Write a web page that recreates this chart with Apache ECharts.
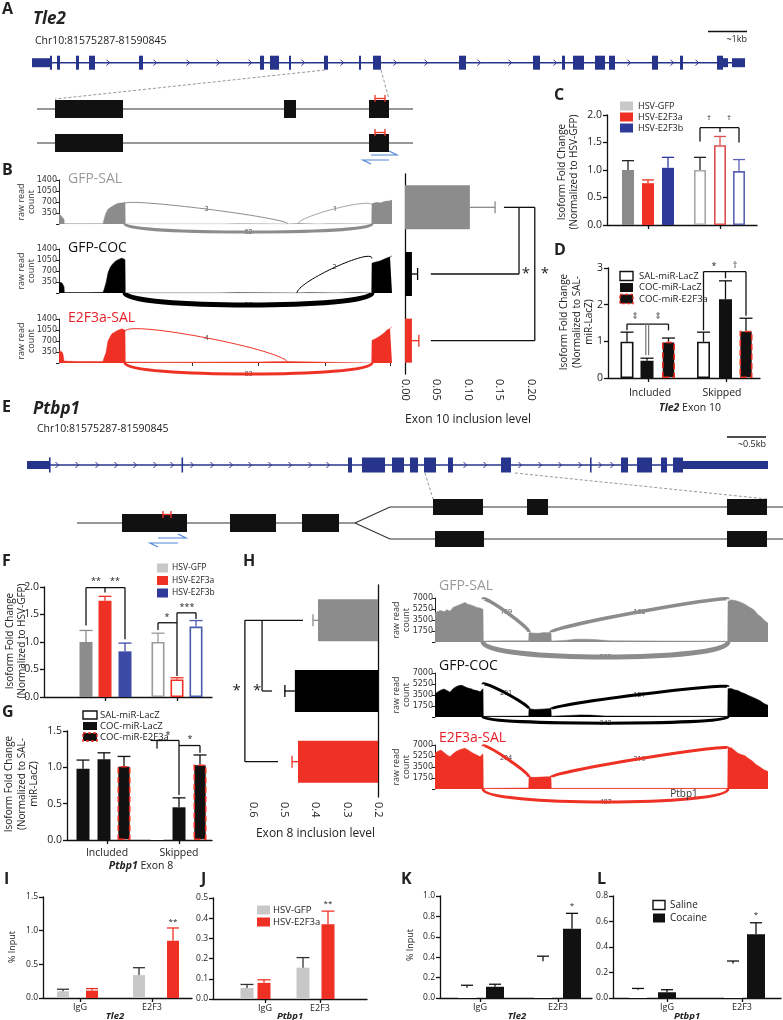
<!DOCTYPE html>
<html>
<head>
<meta charset="utf-8">
<script src="https://cdn.jsdelivr.net/npm/echarts@6/dist/echarts.min.js"></script>
<style>
html, body { margin: 0; background: #fff; }
#main { width: 783px; height: 1020px; }
</style>
</head>
<body>
<div id="main"></div>
<script>
// ---------------- data ----------------
const samples = ['GFP-SAL', 'GFP-COC', 'E2F3a-SAL'];
const exonGroups = ['Included', 'Skipped'];
const chipTargets = ['IgG', 'E2F3'];
const hsvNames = ['HSV-GFP', 'HSV-E2F3a', 'HSV-E2F3b'];
const mirNames = ['SAL-miR-LacZ', 'COC-miR-LacZ', 'COC-miR-E2F3a'];

// gene models (track position units)
const tle2Span = [32, 745];
const tle2Exons = [[50,52],[57,60],[76,79],[89,95],[139,143],[260,264],[270,279],[289,291],[324,328],[359,361],[373,381],[459,466],[533,540],[562,565],[573,584],[595,605],[609,615],[652,658],[680,683],[717,723]];
const tle2Utrs = [[32,50],[723,728],[732,745]];
const tle2Chevrons = [108,155,188,218,250,303,342,395,426,479,510,555,629,672,697];
const tle2IsoSpan = [37, 413];
const tle2IsoIncl = [[55,123],[284,296],[369,389]];
const tle2IsoSkip = [[55,123],[369,389]];

const ptbSpan = [28, 768];
const ptbExons = [[49,50.5],[181.5,183],[348,352],[362,385],[392,404],[410,418],[424,436],[448,453],[501,511],[590,591.5],[621,628],[637,652],[661,667],[673,683]];
const ptbUtrs = [[27,49],[683,768]];
const ptbChevrons = [57,77,97,116,135,155,172,192,212,231,250,270,290,310,328,465,485,520,540,560,580,600,612];
const ptbIsoSharedSpan = [77, 355];
const ptbIsoShared = [[122,187],[230,276],[302,339]];
const ptbIsoBranchSpan = [390, 783];
const ptbIsoIncl = [[433,483],[527,548],[727,767]];
const ptbIsoSkip = [[435,484],[727,767]];

// Tle2 sashimi coverage [position, raw read count]
const tle2CovGfpSal = [[0,330],[1,290],[2,260],[3,280],[4,220],[5,150],[5.3,8],[20,6],[44,10],[45,140],[47,350],[49,470],[51,520],[53,560],[56,610],[59,660],[61,650],[63,670],[65,690],[66,690],[66.3,0],[166,0],[166.3,8],[178,8],[178.3,0],[228,0],[228.3,15],[240,15],[240.3,0],[258,0],[258.3,6],[272,6],[272.3,0],[312.7,0],[313,650],[315,620],[318,690],[321,670],[323,700],[326,720],[328,740],[330,730],[333,760]];
const tle2CovGfpCoc = [[0,350],[1,330],[2,360],[3,320],[4,300],[5,200],[5.3,15],[30,12],[44,20],[45,100],[47,320],[49,640],[51,800],[53,900],[56,1000],[59,1060],[61,1080],[63,1110],[65,1070],[66,1060],[66.3,0],[160,0],[160.3,8],[178,8],[178.3,0],[238,0],[238.3,10],[250,8],[250.3,0],[278,0],[278.3,8],[296,8],[296.3,0],[312.7,0],[313,950],[316,980],[318,1000],[321,1020],[323,1050],[326,1090],[328,1120],[331,1150],[333,1180]];
const tle2CovE2f3 = [[0,400],[1,380],[2,360],[3,350],[4,280],[5,60],[20,45],[44,50],[45,160],[47,330],[49,700],[51,830],[53,930],[56,990],[59,1040],[61,1060],[63,1090],[65,1050],[66,1040],[66.3,30],[100,25],[200,30],[212,40],[230,45],[241,40],[241.3,0],[312.7,0],[313,720],[316,760],[318,800],[321,860],[323,900],[326,980],[328,1050],[331,1100],[333,1150]];
// junctions [from, countAtFrom, to, countAtTo, bend, weight]
const tle2JuncGfpSal = [[66,650,229,0,200,1],[239,0,313,600,250,0.8],[66,0,313,0,-340,3]];
const tle2JuncGfpCoc = [[238,0,313,1100,350,1],[66,0,313,0,-510,5]];
const tle2JuncE2f3 = [[66,1000,229,0,400,1],[66,0,313,0,-470,3]];
const tle2JuncLabels = [['3','1','62'], ['2','57'], ['4','83']];

// Ptbp1 sashimi coverage
const ptbCovGfpSal = [[0,4600],[3,4900],[6,5000],[9,4800],[12,5150],[15,4900],[18,5500],[21,5700],[24,5900],[27,6100],[30,6300],[33,6000],[36,5900],[39,5700],[42,5500],[45,5400],[48,5200],[48.3,150],[70,180],[93.7,200],[94,1500],[97,1450],[100,1400],[103,1380],[106,1450],[109,1500],[112,1480],[116,1550],[116.3,150],[130,250],[140,420],[150,450],[160,380],[175,200],[230,150],[292.7,120],[293,6470],[296,6700],[299,6650],[303,6470],[306,6300],[309,6100],[313,5670],[316,5400],[319,5100],[323,4350],[326,4000],[329,3500],[333,3000]];
const ptbCovGfpCoc = [[0,3700],[3,4000],[6,4300],[9,4450],[12,4200],[15,3950],[18,4500],[21,4800],[24,5000],[27,5050],[30,4800],[33,4600],[36,4500],[39,4300],[42,4200],[45,4000],[48,4500],[48.3,100],[93.7,150],[94,1300],[100,1200],[106,1250],[112,1300],[116,1350],[116.3,120],[135,250],[145,330],[155,300],[170,150],[292.7,100],[293,4500],[296,4550],[300,4300],[303,4200],[306,3950],[310,3700],[313,3450],[317,3200],[321,2900],[325,2600],[329,2150],[333,1850]];
const ptbCovE2f3 = [[0,5700],[3,6000],[6,6200],[9,5800],[12,5400],[15,5150],[18,5600],[21,5950],[24,6200],[27,6350],[30,6470],[33,6200],[36,5900],[39,5600],[42,5400],[45,5150],[48,5600],[48.3,100],[93.7,150],[94,1900],[100,1850],[106,1900],[112,1950],[116,1900],[116.3,100],[292.7,100],[293,6470],[296,6600],[299,6200],[303,5680],[306,5500],[310,5300],[313,4900],[317,4500],[321,3900],[325,3500],[329,3050],[333,2800]];
const ptbJuncGfpSal = [[48,6800,94,1600,800,3.5],[116,1600,293,6800,800,3.5],[48,0,293,0,-3180,5]];
const ptbJuncGfpCoc = [[48,5200,94,1300,700,3],[116,1300,293,4800,700,3],[48,0,293,0,-1300,3]];
const ptbJuncE2f3 = [[48,6800,94,1900,800,3],[116,1900,293,6500,800,3],[48,0,293,0,-2760,3]];
const ptbJuncLabels = [['169','165','532'], ['201','121','342'], ['204','219','487']];

// inclusion levels (mean, sem)
const tle2Incl = [0.103, 0.011, 0.011];
const tle2InclSem = [0.04, 0.009, 0.011];
const ptbIncl = [0.392, 0.466, 0.456];
const ptbInclSem = [0.016, 0.032, 0.019];

// isoform fold changes (3 per exon group)
const cMean = [1.00, 0.76, 1.04, 1.00, 1.45, 0.98];
const cSem  = [0.17, 0.06, 0.19, 0.23, 0.16, 0.21];
const dMean = [0.99, 0.47, 0.99, 0.99, 2.15, 1.29];
const dSem  = [0.26, 0.07, 0.10, 0.26, 0.50, 0.34];
const fMean = [1.00, 1.75, 0.83, 1.00, 0.32, 1.28];
const fSem  = [0.21, 0.08, 0.15, 0.16, 0.03, 0.11];
const gMean = [0.98, 1.11, 1.02, 1.26, 0.45, 1.04];
const gSem  = [0.12, 0.09, 0.13, 0.11, 0.13, 0.13];

// ChIP % input (IgG x2, E2F3 x2)
const iMean = [0.10, 0.11, 0.34, 0.85];
const iSem  = [0.03, 0.03, 0.11, 0.19];
const jMean = [0.055, 0.08, 0.155, 0.37];
const jSem  = [0.017, 0.015, 0.05, 0.065];
const kMean = [0.10, 0.11, 0.36, 0.68];
const kSem  = [0.025, 0.025, 0.05, 0.15];
const lMean = [0.065, 0.045, 0.27, 0.50];
const lSem  = [0.01, 0.02, 0.02, 0.09];

// ---------------- styles / helpers ----------------
const FONT = '"Open Sans", "Noto Sans", sans-serif';
const BLUE = '#27348b', RED = '#ee3124', NAVY = '#2e3a99', LGRAY = '#c8c8c8', PRIMER = '#4f86d6';
const grids = [], xAxes = [], yAxes = [], series = [], graphics = [];

function addGrid (grid, xa, ya) {
    const i = grids.length
    grids.push(grid)
    xAxes.push(Object.assign({ gridIndex: i }, xa))
    yAxes.push(Object.assign({ gridIndex: i }, ya))
    return i
}
function txt (x, y, text, o = {}) {
    const align = o.align || 'left', va = o.va || 'top'
    graphics.push({ type: 'text', x, y, rotation: o.rot || 0, z: 100, silent: true,
        style: { text, fill: o.color || '#222', fontSize: o.size || 10, fontFamily: o.family || FONT,
            fontWeight: o.weight || 'normal', fontStyle: o.style || 'normal', lineHeight: o.lh,
            align, textAlign: align, verticalAlign: va, textVerticalAlign: va, rich: o.rich } })
}
function gline (x1, y1, x2, y2, color = '#111', lw = 1.2) {
    graphics.push({ type: 'line', z: 100, silent: true, shape: { x1, y1, x2, y2 }, style: { stroke: color, lineWidth: lw } })
}
function swatch (x, y, w, h, fill, stroke, dash) {
    graphics.push({ type: 'rect', z: 100, silent: true, shape: { x, y: y - h / 2, width: w, height: h },
        style: { fill, stroke: stroke || null, lineWidth: stroke ? 1.4 : 0, lineDash: dash ? [3, 2] : null } })
}
function poly (pts) {   // polyline -> list of segments
    const s = []
    for (let i = 1; i < pts.length; i++) s.push([pts[i - 1][0], pts[i - 1][1], pts[i][0], pts[i][1]])
    return s
}
function hollow (c) { return { color: '#fff', borderColor: c, borderWidth: 1.6 } }
const redDash = { color: '#111', borderColor: RED, borderWidth: 1.6, borderType: 'dashed' }

function errBars (gi, pts, horiz, colors, cap, lw = 1.3) {
    return {
        type: 'custom', xAxisIndex: gi, yAxisIndex: gi, z: 3, silent: true, data: pts,
        renderItem: (params, api) => {
            const c = colors[params.dataIndex]
            let b, t, a1, a2
            if (!horiz) {
                b = api.coord([api.value(0), api.value(1)]); t = api.coord([api.value(0), api.value(2)])
                a1 = [t[0] - cap, t[1]]; a2 = [t[0] + cap, t[1]]
            } else {
                b = api.coord([api.value(1), api.value(0)]); t = api.coord([api.value(2), api.value(0)])
                a1 = [t[0], t[1] - cap]; a2 = [t[0], t[1] + cap]
            }
            return { type: 'group', children: [
                { type: 'line', shape: { x1: b[0], y1: b[1], x2: t[0], y2: t[1] }, style: { stroke: c, lineWidth: lw } },
                { type: 'line', shape: { x1: a1[0], y1: a1[1], x2: a2[0], y2: a2[1] }, style: { stroke: c, lineWidth: lw } }
            ] }
        }
    }
}
function annotSeries (gi, a) {
    const items = []
    ;(a.segs || []).forEach(s => items.push([0, s[0], s[1], s[2], s[3], 0]))
    ;(a.texts || []).forEach((t, k) => items.push([1, t[0], t[1], 0, 0, k]))
    return {
        type: 'custom', xAxisIndex: gi, yAxisIndex: gi, z: 4, silent: true, data: items,
        renderItem: (params, api) => {
            if (api.value(0) === 0) {
                const p1 = api.coord([api.value(1), api.value(2)]), p2 = api.coord([api.value(3), api.value(4)])
                return { type: 'line', shape: { x1: p1[0], y1: p1[1], x2: p2[0], y2: p2[1] },
                    style: { stroke: a.color || '#111', lineWidth: a.lw || 1.3 } }
            }
            const t = a.texts[api.value(5)], p = api.coord([api.value(1), api.value(2)])
            return { type: 'text', x: p[0], y: p[1], style: { text: t[2], fill: '#222', fontSize: t[3] || 9, fontFamily: FONT,
                align: 'center', textAlign: 'center', verticalAlign: 'middle', textVerticalAlign: 'middle' } }
        }
    }
}

// vertical bar panel on a value x axis (bar centres given in px from grid left)
function barPanel (p) {
    const gi = addGrid({ left: p.left, top: p.top, width: p.width, height: p.height },
        { type: 'value', min: 0, max: p.width, splitLine: { show: false },
            axisLine: { onZero: false, lineStyle: { color: '#111', width: 1.3 } },
            axisTick: { show: !!p.ticks, customValues: p.ticks || [], length: 4, lineStyle: { color: '#111', width: 1.3 } },
            axisLabel: { show: false } },
        { type: 'value', min: 0, max: p.yMax, interval: p.yInt, splitLine: { show: false },
            axisLine: { show: true, onZero: false, lineStyle: { color: '#111', width: 1.3 } },
            axisTick: { show: true, length: 4, lineStyle: { color: '#111', width: 1.3 } },
            axisLabel: { fontSize: p.yFont || 10.5, color: '#222', fontFamily: FONT, margin: 5, formatter: v => v.toFixed(p.dec) } })
    series.push({ type: 'bar', xAxisIndex: gi, yAxisIndex: gi, barWidth: p.barW, z: 2,
        data: p.mean.map((m, i) => ({ value: [p.x[i], m], itemStyle: p.style[i] })) })
    series.push(errBars(gi, p.mean.map((m, i) => [p.x[i], m, m + p.sem[i]]), false, p.errColor, p.cap || p.barW / 2))
    if (p.annot) series.push(annotSeries(gi, p.annot))
    if (p.labels) p.labels.forEach((s, i) => txt(p.labelX[i], p.top + p.height + p.labelGap, s,
        { size: p.xFont || 10.5, align: 'center', va: 'middle', color: '#222' }))
    return gi
}

// horizontal inclusion-level bar panel
function hBarPanel (p) {
    const gi = addGrid({ left: p.left, top: p.top, width: p.width, height: p.height },
        { type: 'value', min: p.xMin, max: p.xMax, interval: p.xInt, inverse: !!p.inverse, splitLine: { show: false },
            axisLine: { onZero: false, lineStyle: { color: '#111', width: 1.3 } },
            axisTick: { length: 4, lineStyle: { color: '#111', width: 1.3 } },
            axisLabel: { rotate: -90, fontSize: 11, color: '#222', fontFamily: FONT, margin: 5, formatter: v => v.toFixed(p.dec) },
            name: p.xName, nameLocation: 'middle', nameGap: p.nameGap, nameTextStyle: { fontSize: 12, color: '#222', fontFamily: FONT } },
        { type: 'category', data: samples, inverse: true, position: p.yPos,
            axisLine: { onZero: false, lineStyle: { color: '#111', width: 1.3 } }, axisTick: { show: false }, axisLabel: { show: false } })
    series.push({ type: 'bar', xAxisIndex: gi, yAxisIndex: gi, barWidth: p.barW, clip: true, z: 2,
        data: p.vals.map((v, i) => ({ value: v, itemStyle: { color: p.colors[i] } })) })
    series.push(errBars(gi, p.vals.map((v, i) => [i, v, v + p.sem[i]]), true, p.colors, 6))
    series.push(annotSeries(gi, p.annot))
}

// sashimi row
function sashimi (p) {
    const gi = addGrid({ left: p.left, top: p.top, width: p.width, height: p.height },
        { type: 'value', min: 0, max: p.width, show: !!p.topTicks, position: 'top', splitLine: { show: false },
            axisLine: { show: false }, axisLabel: { show: false },
            axisTick: { show: !!p.topTicks, inside: true, length: 3, customValues: p.topTicks || [], lineStyle: { color: '#333' } } },
        { type: 'value', min: 0, max: p.yMax, interval: p.yMax / 4, splitLine: { show: false },
            axisLine: { show: true, onZero: false, lineStyle: { color: '#222', width: 1 } },
            axisTick: { show: true, length: 3, lineStyle: { color: '#222' } },
            axisLabel: { fontSize: 8, color: '#333', margin: 2, fontFamily: '"DejaVu Sans"', formatter: v => v === 0 ? '' : String(v) } })
    series.push({ type: 'line', xAxisIndex: gi, yAxisIndex: gi, data: p.cov, symbol: 'none', z: 2,
        lineStyle: { width: 0.5, color: p.color }, areaStyle: { color: p.color, opacity: 1 } })
    series.push({
        type: 'custom', xAxisIndex: gi, yAxisIndex: gi, z: 3, silent: true, clip: false, data: p.arcs,
        renderItem: (params, api) => {
            const a = api.value(0), ya = api.value(1), b = api.value(2), yb = api.value(3), d = api.value(4), lw = api.value(5)
            const p0 = api.coord([a, ya]), p1 = api.coord([a, ya + d]), p2 = api.coord([b, yb + d]), p3 = api.coord([b, yb])
            const mx = (p0[0] + 3 * p1[0] + 3 * p2[0] + p3[0]) / 8, my = (p0[1] + 3 * p1[1] + 3 * p2[1] + p3[1]) / 8
            return { type: 'group', children: [
                { type: 'text', x: mx, y: my, z2: 0, style: { text: p.labels[params.dataIndex], fill: '#333', fontSize: 7, fontFamily: FONT,
                    align: 'center', textAlign: 'center', verticalAlign: 'middle', textVerticalAlign: 'middle' } },
                { type: 'bezierCurve', z2: 1, shape: { x1: p0[0], y1: p0[1], cpx1: p1[0], cpy1: p1[1], cpx2: p2[0], cpy2: p2[1], x2: p3[0], y2: p3[1] },
                    style: { stroke: p.arcColor || p.color, lineWidth: lw, fill: 'none' } }
            ] }
        }
    })
}

// gene model drawing
function structSeries (gi, items) {
    return {
        type: 'custom', xAxisIndex: gi, yAxisIndex: gi, z: 2, silent: true, clip: false, data: items,
        renderItem: (params, api) => {
            const k = api.value(0), h = api.value(5)
            const p1 = api.coord([api.value(1), api.value(3)]), p2 = api.coord([api.value(2), api.value(4)])
            if (k === 0 || k === 3) return { type: 'line', shape: { x1: p1[0], y1: p1[1], x2: p2[0], y2: p2[1] },
                style: { stroke: k === 0 ? BLUE : '#333', lineWidth: k === 0 ? 1.6 : 1.1 } }
            if (k === 1 || k === 4) return { type: 'rect', shape: { x: p1[0], y: p1[1] - h / 2, width: Math.max(p2[0] - p1[0], 1.6), height: h },
                style: { fill: k === 1 ? BLUE : '#111' } }
            if (k === 2) return { type: 'polyline', shape: { points: [[p1[0] - 1.5, p1[1] - 3], [p1[0] + 1.5, p1[1]], [p1[0] - 1.5, p1[1] + 3]] },
                style: { stroke: BLUE, lineWidth: 1, fill: 'none' } }
            if (k === 5) {
                const y = p1[1]
                return { type: 'group', children: [
                    { type: 'line', shape: { x1: p1[0], y1: y - 4, x2: p1[0], y2: y + 3 }, style: { stroke: RED, lineWidth: 1.3 } },
                    { type: 'line', shape: { x1: p2[0], y1: y - 4, x2: p2[0], y2: y + 3 }, style: { stroke: RED, lineWidth: 1.3 } },
                    { type: 'line', shape: { x1: p1[0], y1: y - 0.5, x2: p2[0], y2: y - 0.5 }, style: { stroke: RED, lineWidth: 1.3 } }
                ] }
            }
            if (k === 6) {
                const y = p1[1]
                return { type: 'group', children: [
                    { type: 'polyline', shape: { points: [[p1[0] + 8, y], [p2[0], y], [p2[0] - 8, y - 4]] }, style: { stroke: PRIMER, lineWidth: 1.2, fill: 'none' } },
                    { type: 'polyline', shape: { points: [[p1[0] + 8, y + 9], [p1[0], y + 5], [p2[0] - 8, y + 5]] }, style: { stroke: PRIMER, lineWidth: 1.2, fill: 'none' } }
                ] }
            }
            return { type: 'line', shape: { x1: p1[0], y1: p1[1], x2: p2[0], y2: p2[1] }, style: { stroke: '#999', lineWidth: 1, lineDash: [3, 2] } }
        }
    }
}
function geneItems (span, exons, utrs, chev, yl, exH, utrH) {
    const it = [[0, span[0], span[1], yl, yl, 0]]
    chev.forEach(c => it.push([2, c, c, yl, yl, 0]))
    exons.forEach(e => it.push([1, e[0], e[1], yl, yl, exH]))
    utrs.forEach(e => it.push([1, e[0], e[1], yl, yl, utrH]))
    return it
}
function isoItems (span, exons, yl, h) {
    const it = [[3, span[0], span[1], yl, yl, 0]]
    exons.forEach(e => it.push([4, e[0], e[1], yl, yl, h]))
    return it
}
function structGrid (top, height) {
    return addGrid({ left: 0, top, width: 783, height },
        { type: 'value', min: 0, max: 783, show: false },
        { type: 'value', min: 0, max: height, inverse: true, show: false })
}

// ---------------- A: Tle2 gene model ----------------
const gA = structGrid(50, 120)
series.push(structSeries(gA, [].concat(
    geneItems(tle2Span, tle2Exons, tle2Utrs, tle2Chevrons, 12.7, 14, 9),
    [[7, 325, 55, 20, 49, 0], [7, 381, 389, 20, 49, 0]],
    isoItems(tle2IsoSpan, tle2IsoIncl, 59, 18),
    isoItems(tle2IsoSpan, tle2IsoSkip, 93, 18),
    [[5, 375, 385, 49, 49, 0], [5, 375, 385, 83, 83, 0], [6, 363, 397, 105, 105, 0]]
)))

// ---------------- B: Tle2 sashimi + inclusion ----------------
const sashColors = ['#8c8c8c', '#000000', RED]
const tle2Cov = [tle2CovGfpSal, tle2CovGfpCoc, tle2CovE2f3]
const tle2Junc = [tle2JuncGfpSal, tle2JuncGfpCoc, tle2JuncE2f3]
const tle2RowTop = [180, 249, 319]
tle2RowTop.forEach((top, r) => sashimi({ left: 59, top, width: 333, height: 44, yMax: 1400, cov: tle2Cov[r], arcs: tle2Junc[r],
    labels: tle2JuncLabels[r], color: sashColors[r], topTicks: r === 2 ? [133, 199, 266, 331] : null }))

hBarPanel({ left: 405, top: 174, width: 126, height: 200, xMin: 0, xMax: 0.2, xInt: 0.05, dec: 2, yPos: 'left',
    xName: 'Exon 10 inclusion level', nameGap: 40, barW: 44, vals: tle2Incl, sem: tle2InclSem, colors: sashColors,
    annot: { segs: [].concat(
        poly([[0.157, 0], [0.206, 0], [0.206, 2], [0.041, 2]]),
        poly([[0.181, 0], [0.181, 1], [0.041, 1]])),
        texts: [[0.192, 0.5, '*', 15], [0.222, 1.0, '*', 15]] } })

// ---------------- C ----------------
barPanel({ left: 607, top: 115, width: 150, height: 110, yMax: 2, yInt: 0.5, dec: 1,
    x: [21, 41, 61, 93, 113, 132], barW: 12, ticks: [41, 113], mean: cMean, sem: cSem,
    style: [{ color: '#8a8a8a' }, { color: RED }, { color: NAVY }, hollow('#a8a8a8'), hollow('#d95050'), hollow('#5b64b3')],
    errColor: ['#222', RED, NAVY, '#222', '#d95050', '#5b64b3'],
    annot: { segs: [].concat(poly([[93, 1.52], [93, 1.77], [132, 1.77], [132, 1.50]]), poly([[113, 1.77], [113, 1.69]])),
        texts: [[102, 1.95, '†', 8], [122, 1.95, '†', 8]] } })

// ---------------- D ----------------
barPanel({ left: 608, top: 268, width: 152, height: 110, yMax: 3, yInt: 1, dec: 0,
    x: [19, 39, 60.5, 95.5, 117.5, 138], barW: 13, ticks: [40, 118], mean: dMean, sem: dSem,
    labels: exonGroups, labelX: [650, 722], labelGap: 15,
    style: [hollow('#111'), { color: '#111' }, redDash, hollow('#111'), { color: '#111' }, redDash],
    errColor: ['#111', '#111', '#111', '#111', '#111', '#111'],
    annot: { segs: [].concat(
        poly([[19, 1.30], [19, 1.47], [60.5, 1.47], [60.5, 1.30]]),
        poly([[95.5, 1.30], [95.5, 2.90], [138, 2.90], [138, 1.70]]), poly([[117.5, 2.90], [117.5, 2.72]])),
        texts: [[27, 1.68, '‡', 9], [50, 1.68, '‡', 9], [106, 3.03, '*', 9], [127, 3.08, '†', 9]] } })
series.push(annotSeries(grids.length - 1, { color: '#777', lw: 1.2, segs: [[37.8, 1.47, 37.8, 0.62], [40.6, 1.47, 40.6, 0.62]] }))

// ---------------- E: Ptbp1 gene model ----------------
const gE = structGrid(440, 120)
series.push(structSeries(gE, [].concat(
    geneItems(ptbSpan, ptbExons, ptbUtrs, ptbChevrons, 25, 15, 8),
    [[7, 425, 433, 33, 59, 0], [7, 515, 767, 33, 59, 0]],
    isoItems(ptbIsoSharedSpan, ptbIsoShared, 83, 18),
    [[3, 355, 390, 83, 67, 0], [3, 355, 390, 83, 99, 0]],
    isoItems(ptbIsoBranchSpan, ptbIsoIncl, 67, 16),
    isoItems(ptbIsoBranchSpan, ptbIsoSkip, 99, 16),
    [[5, 163, 171, 75, 75, 0], [6, 150, 186, 98, 98, 0]]
)))

// ---------------- F ----------------
barPanel({ left: 44, top: 587, width: 168, height: 110, yMax: 2, yInt: 0.5, dec: 1,
    x: [42, 61, 81, 114, 133, 152], barW: 13, ticks: [61, 133], mean: fMean, sem: fSem,
    style: [{ color: '#8c8c8c' }, { color: RED }, { color: '#3b4ba5' }, hollow('#9a9a9a'), hollow(RED), hollow('#4a5cb0')],
    errColor: ['#8c8c8c', RED, '#3b4ba5', '#9a9a9a', RED, '#4a5cb0'],
    annot: { segs: [].concat(
        poly([[42, 1.30], [42, 1.99], [81, 1.99], [81, 1.05]]), poly([[61, 1.99], [61, 1.90]]),
        poly([[114, 1.22], [114, 1.35], [133, 1.35]]), poly([[133, 1.53], [133, 0.38]]),
        poly([[133, 1.53], [152, 1.53], [152, 1.42]])),
        texts: [[52, 2.1, '**', 9], [71, 2.1, '**', 9], [123, 1.45, '*', 9], [143, 1.63, '***', 9]] } })

// ---------------- G ----------------
barPanel({ left: 67, top: 731, width: 145, height: 109, yMax: 1.5, yInt: 0.5, dec: 1,
    x: [16, 37, 57, 90, 112, 133], barW: 13, ticks: [40, 112], mean: gMean, sem: gSem,
    labels: exonGroups, labelX: [107, 179], labelGap: 13,
    style: [{ color: '#111' }, { color: '#111' }, redDash, { color: '#fff' }, { color: '#111' }, redDash],
    errColor: ['#111', '#111', '#111', '#111', '#111', '#111'],
    annot: { segs: [].concat(
        poly([[90, 1.37], [112, 1.37]]), poly([[112, 1.37], [112, 0.62]]),
        poly([[112, 1.30], [133, 1.30], [133, 1.20]])),
        texts: [[101, 1.44, '*', 9], [123, 1.38, '*', 9]] } })

// ---------------- H: Ptbp1 inclusion + sashimi ----------------
hBarPanel({ left: 253, top: 585, width: 125, height: 212, xMin: 0.2, xMax: 0.6, xInt: 0.1, dec: 1, inverse: true, yPos: 'right',
    xName: 'Exon 8 inclusion level', nameGap: 31, barW: 42, vals: ptbIncl, sem: ptbInclSem, colors: sashColors,
    annot: { segs: [].concat(
        poly([[0.44, 0], [0.626, 0], [0.626, 2], [0.52, 2]]),
        poly([[0.571, 0], [0.571, 1], [0.539, 1]])),
        texts: [[0.587, 0.5, '*', 15], [0.652, 1.0, '*', 15]] } })

const ptbCov = [ptbCovGfpSal, ptbCovGfpCoc, ptbCovE2f3]
const ptbJunc = [ptbJuncGfpSal, ptbJuncGfpCoc, ptbJuncE2f3]
const ptbRowTop = [598, 673, 745]
ptbRowTop.forEach((top, r) => sashimi({ left: 435, top, width: 333, height: 44, yMax: 7000, cov: ptbCov[r], arcs: ptbJunc[r],
    labels: ptbJuncLabels[r], color: sashColors[r] }))

// ---------------- I-L: ChIP ----------------
const chipLbl = { xFont: 9, labelGap: 9 }
barPanel(Object.assign({ left: 43, top: 897, width: 149, height: 101, yMax: 1.5, yInt: 0.5, dec: 1, yFont: 8.5,
    x: [20, 49, 96, 130], barW: 12, ticks: [37, 109], labels: chipTargets, labelX: [80, 152], mean: iMean, sem: iSem,
    style: [{ color: LGRAY }, { color: RED }, { color: LGRAY }, { color: RED }], errColor: ['#333', RED, '#333', RED],
    annot: { texts: [[130, 1.14, '**', 8]] } }, chipLbl))
barPanel(Object.assign({ left: 213, top: 898, width: 154, height: 101, yMax: 0.5, yInt: 0.1, dec: 1, yFont: 8.5,
    x: [34, 51, 90, 115], barW: 13, ticks: [52, 107], labels: chipTargets, labelX: [265, 320], mean: jMean, sem: jSem,
    style: [{ color: LGRAY }, { color: RED }, { color: LGRAY }, { color: RED }], errColor: ['#333', RED, '#333', RED],
    annot: { texts: [[115, 0.47, '**', 8]] } }, chipLbl))
barPanel(Object.assign({ left: 440, top: 896, width: 152, height: 102, yMax: 1.0, yInt: 0.2, dec: 1, yFont: 8.5,
    x: [27, 55, 103, 132], barW: 18, cap: 6, ticks: [40, 118], labels: chipTargets, labelX: [480, 558], mean: kMean, sem: kSem,
    style: [{ color: '#fff' }, { color: '#111' }, { color: '#fff' }, { color: '#111' }], errColor: ['#111', '#111', '#111', '#111'],
    annot: { texts: [[132, 0.9, '*', 8]] } }, chipLbl))
barPanel(Object.assign({ left: 613, top: 896, width: 168, height: 102, yMax: 0.8, yInt: 0.2, dec: 1, yFont: 8.5,
    x: [25, 54, 120, 143], barW: 18, cap: 6, ticks: [54, 129], labels: chipTargets, labelX: [667, 742], mean: lMean, sem: lSem,
    style: [{ color: '#fff' }, { color: '#111' }, { color: '#fff' }, { color: '#111' }], errColor: ['#111', '#111', '#111', '#111'],
    annot: { texts: [[143, 0.65, '*', 8]] } }, chipLbl))

// ---------------- text, legends, scale bars ----------------
const letter = (x, y, s) => txt(x, y, s, { size: 16, weight: 'bold' })
letter(2, 1, 'A'); letter(2, 162, 'B'); letter(554, 87, 'C'); letter(554, 242, 'D')
letter(2, 399, 'E'); letter(2, 553, 'F'); letter(2, 704, 'G'); letter(243, 553, 'H')
letter(4, 871, 'I'); letter(201, 871, 'J'); letter(401, 871, 'K'); letter(597, 871, 'L')

txt(33, 11, 'Tle2', { size: 17, weight: 'bold', style: 'italic' })
txt(35, 36, 'Chr10:81575287-81590845', { size: 10.5 })
txt(33, 401, 'Ptbp1', { size: 17, weight: 'bold', style: 'italic' })
txt(37, 424, 'Chr10:81575287-81590845', { size: 10.5 })
gline(708, 31.5, 747, 31.5, '#111', 1.3); txt(747, 35, '~1kb', { size: 9, align: 'right' })
gline(727, 437, 766, 437, '#111', 1.3); txt(766, 440, '~0.5kb', { size: 9, align: 'right' })

const nameColors = ['#9a9a9a', '#111', '#e8202a']
const ptbNameShift = [-12, -7, -7]
samples.forEach((s, r) => {
    txt(68, tle2RowTop[r] - 1, s, { size: 14, color: nameColors[r], va: 'middle' })
    txt(26, tle2RowTop[r] + 22, 'raw read\ncount', { size: 9, lh: 10, rot: Math.PI / 2, align: 'center', va: 'middle', color: '#333' })
    txt(439, ptbRowTop[r] + ptbNameShift[r], s, { size: 14, color: nameColors[r], va: 'middle' })
    txt(401, ptbRowTop[r] + 22, 'raw read\ncount', { size: 9, lh: 10, rot: Math.PI / 2, align: 'center', va: 'middle', color: '#333' })
})
txt(684, 794, 'Ptbp1', { size: 10, color: '#333', align: 'center', va: 'middle' })

// y-axis titles
const yTitle = (x, y, s, size = 10, lh = 12.5) => txt(x, y, s, { size, lh, rot: Math.PI / 2, align: 'center', va: 'middle', color: '#222' })
yTitle(568, 172, 'Isoform Fold Change\n(Normalized to HSV-GFP)')
yTitle(577, 322, 'Isoform Fold Change\n(Normalized to SAL-\nmiR-LacZ)')
yTitle(16, 641, 'Isoform Fold Change\n(Normalized to HSV-GFP)')
yTitle(22, 784, 'Isoform Fold Change\n(Normalized to SAL-\nmiR-LacZ)')
yTitle(12, 947, '% Input', 9)
yTitle(410, 945, '% Input', 9)

// x group titles
txt(690, 408, '{i|Tle2} Exon 10', { size: 10.5, align: 'center', va: 'middle', rich: { i: { fontStyle: 'italic', fontWeight: 'bold', fontSize: 10.5, fontFamily: FONT } } })
txt(141, 866, '{i|Ptbp1} Exon 8', { size: 10.5, align: 'center', va: 'middle', rich: { i: { fontStyle: 'italic', fontWeight: 'bold', fontSize: 10.5, fontFamily: FONT } } })
txt(115, 1016, 'Tle2', { size: 9.5, weight: 'bold', style: 'italic', align: 'center', va: 'middle' })
txt(290, 1016, 'Ptbp1', { size: 9.5, weight: 'bold', style: 'italic', align: 'center', va: 'middle' })
txt(517, 1016, 'Tle2', { size: 9.5, weight: 'bold', style: 'italic', align: 'center', va: 'middle' })
txt(687, 1016, 'Ptbp1', { size: 9.5, weight: 'bold', style: 'italic', align: 'center', va: 'middle' })

// legends
const hsvFill = [LGRAY, RED, NAVY]
hsvNames.forEach((n, i) => {
    swatch(620, 106 + i * 11, 13, 9, hsvFill[i]); txt(638, 106 + i * 11, n, { size: 9, va: 'middle' })
    swatch(157, 568 + i * 12.5, 11, 9, hsvFill[i]); txt(172, 568 + i * 12.5, n, { size: 8.5, va: 'middle' })
})
const mirSw = [['#fff', '#111', false], ['#111', null, false], ['#111', RED, true]]
mirNames.forEach((n, i) => {
    swatch(620, 276 + i * 11.5, 13, 9, mirSw[i][0], mirSw[i][1], mirSw[i][2]); txt(639, 276 + i * 11.5, n, { size: 9.5, va: 'middle' })
    swatch(83, 715 + i * 11, 14, 8, mirSw[i][0], mirSw[i][1], mirSw[i][2]); txt(100, 715 + i * 11, n, { size: 9.5, va: 'middle' })
})
;['HSV-GFP', 'HSV-E2F3a'].forEach((n, i) => { swatch(257, 910 + i * 12, 13, 9, [LGRAY, RED][i]); txt(273, 910 + i * 12, n, { size: 9.5, va: 'middle' }) })
;['Saline', 'Cocaine'].forEach((n, i) => { swatch(653, 905 + i * 13, 12, 9, ['#fff', '#111'][i], i ? null : '#111'); txt(670, 905 + i * 13, n, { size: 10, va: 'middle' }) })

// ---------------- chart ----------------
const chart = echarts.init(document.getElementById('main'), null, { renderer: 'canvas' })
chart.setOption({
    animation: false,
    backgroundColor: '#fff',
    textStyle: { fontFamily: FONT },
    grid: grids,
    xAxis: xAxes,
    yAxis: yAxes,
    series,
    graphic: { elements: graphics }
})
</script>
</body>
</html>
